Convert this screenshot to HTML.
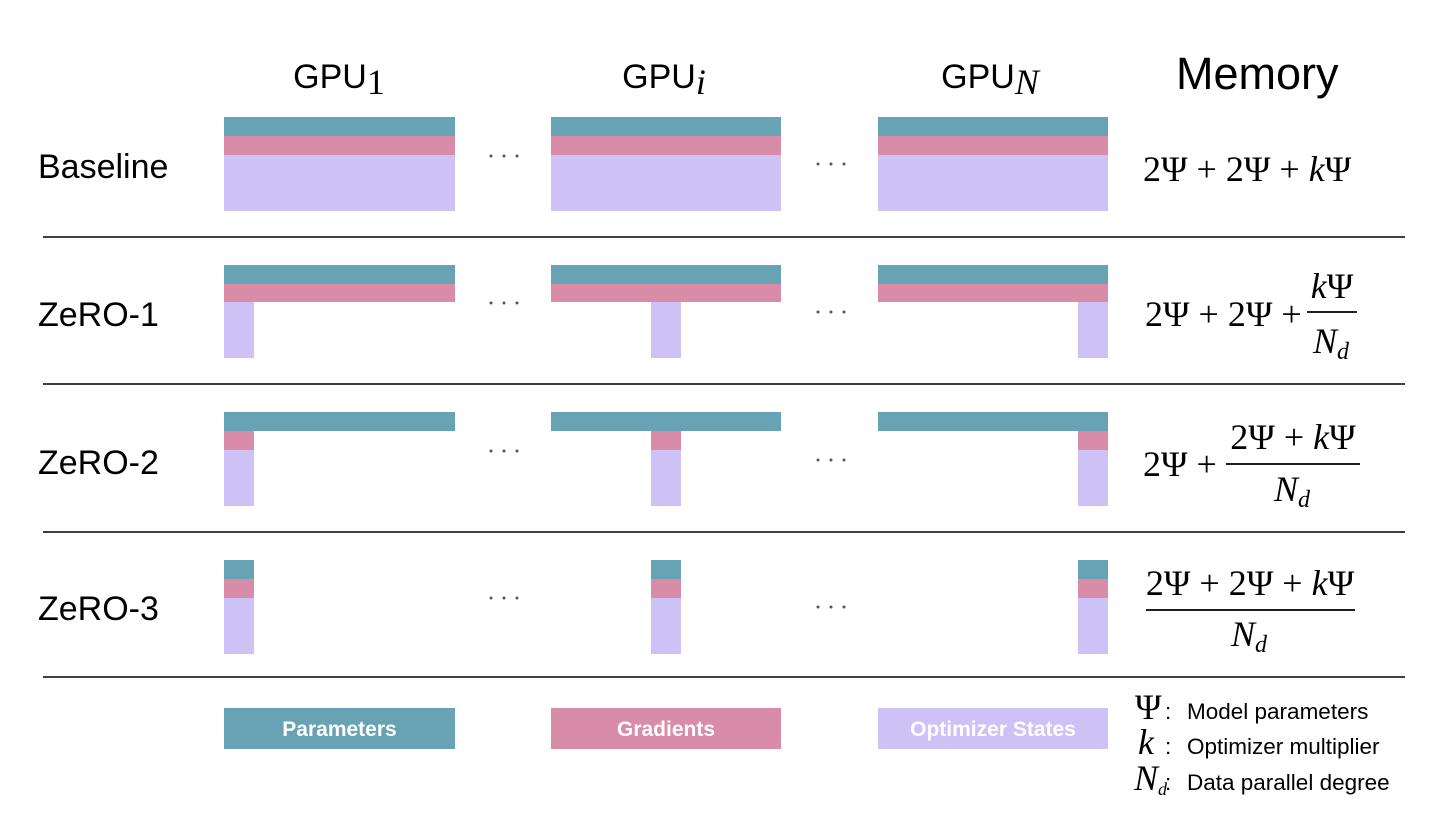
<!DOCTYPE html>
<html><head><meta charset="utf-8"><style>
html,body{margin:0;padding:0;background:#fff;}
svg{display:block;}
.s{font-family:"Liberation Sans",sans-serif;fill:#000;}
.m{font-family:"Liberation Serif",serif;fill:#000;font-size:36px;}
.i{font-style:italic;}
.lg{font-family:"Liberation Sans",sans-serif;fill:#fff;font-weight:bold;font-size:21px;}
</style></head><body>
<svg width="1452" height="838" viewBox="0 0 1452 838" xmlns="http://www.w3.org/2000/svg">
<rect width="1452" height="838" fill="#fff"/>
<text class="s" x="339" y="88" font-size="34" text-anchor="middle">GPU<tspan class="m" font-size="26" dy="6">1</tspan></text>
<text class="s" x="664" y="88" font-size="34" text-anchor="middle">GPU<tspan class="m i" font-size="26" dy="6">i</tspan></text>
<text class="s" x="990" y="88" font-size="34" text-anchor="middle">GPU<tspan class="m i" font-size="26" dy="6">N</tspan></text>
<text class="s" x="1176" y="89" font-size="45">Memory</text>
<text class="s" x="38" y="178" font-size="34">Baseline</text>
<text class="s" x="38" y="326" font-size="34">ZeRO-1</text>
<text class="s" x="38" y="474" font-size="34">ZeRO-2</text>
<text class="s" x="38" y="620" font-size="34">ZeRO-3</text>
<g stroke="#000" stroke-width="1.6">
<line x1="43" y1="237" x2="1405" y2="237"/>
<line x1="43" y1="384" x2="1405" y2="384"/>
<line x1="43" y1="532" x2="1405" y2="532"/>
<line x1="43" y1="677" x2="1405" y2="677"/>
</g>
<g>
<rect x="224" y="117" width="231" height="19" fill="#67a3b4"/><rect x="224" y="136" width="231" height="19" fill="#d98ca8"/><rect x="224" y="155" width="231" height="56" fill="#cdc1f6"/>
<rect x="551" y="117" width="230" height="19" fill="#67a3b4"/><rect x="551" y="136" width="230" height="19" fill="#d98ca8"/><rect x="551" y="155" width="230" height="56" fill="#cdc1f6"/>
<rect x="878" y="117" width="230" height="19" fill="#67a3b4"/><rect x="878" y="136" width="230" height="19" fill="#d98ca8"/><rect x="878" y="155" width="230" height="56" fill="#cdc1f6"/>
</g>
<g>
<rect x="224" y="265" width="231" height="19" fill="#67a3b4"/><rect x="224" y="284" width="231" height="18" fill="#d98ca8"/><rect x="224" y="302" width="30" height="56" fill="#cdc1f6"/>
<rect x="551" y="265" width="230" height="19" fill="#67a3b4"/><rect x="551" y="284" width="230" height="18" fill="#d98ca8"/><rect x="651" y="302" width="30" height="56" fill="#cdc1f6"/>
<rect x="878" y="265" width="230" height="19" fill="#67a3b4"/><rect x="878" y="284" width="230" height="18" fill="#d98ca8"/><rect x="1078" y="302" width="30" height="56" fill="#cdc1f6"/>
</g>
<g>
<rect x="224" y="412" width="231" height="19" fill="#67a3b4"/><rect x="224" y="431" width="30" height="19" fill="#d98ca8"/><rect x="224" y="450" width="30" height="56" fill="#cdc1f6"/>
<rect x="551" y="412" width="230" height="19" fill="#67a3b4"/><rect x="651" y="431" width="30" height="19" fill="#d98ca8"/><rect x="651" y="450" width="30" height="56" fill="#cdc1f6"/>
<rect x="878" y="412" width="230" height="19" fill="#67a3b4"/><rect x="1078" y="431" width="30" height="19" fill="#d98ca8"/><rect x="1078" y="450" width="30" height="56" fill="#cdc1f6"/>
</g>
<g>
<rect x="224" y="560" width="30" height="19" fill="#67a3b4"/><rect x="224" y="579" width="30" height="19" fill="#d98ca8"/><rect x="224" y="598" width="30" height="56" fill="#cdc1f6"/>
<rect x="651" y="560" width="30" height="19" fill="#67a3b4"/><rect x="651" y="579" width="30" height="19" fill="#d98ca8"/><rect x="651" y="598" width="30" height="56" fill="#cdc1f6"/>
<rect x="1078" y="560" width="30" height="19" fill="#67a3b4"/><rect x="1078" y="579" width="30" height="19" fill="#d98ca8"/><rect x="1078" y="598" width="30" height="56" fill="#cdc1f6"/>
</g>
<g fill="#555">
<circle cx="491" cy="156" r="1.5"/><circle cx="504" cy="156" r="1.5"/><circle cx="517" cy="156" r="1.5"/>
<circle cx="818" cy="164" r="1.5"/><circle cx="831" cy="164" r="1.5"/><circle cx="844" cy="164" r="1.5"/>
<circle cx="491" cy="303" r="1.5"/><circle cx="504" cy="303" r="1.5"/><circle cx="517" cy="303" r="1.5"/>
<circle cx="818" cy="312" r="1.5"/><circle cx="831" cy="312" r="1.5"/><circle cx="844" cy="312" r="1.5"/>
<circle cx="491" cy="451" r="1.5"/><circle cx="504" cy="451" r="1.5"/><circle cx="517" cy="451" r="1.5"/>
<circle cx="818" cy="460" r="1.5"/><circle cx="831" cy="460" r="1.5"/><circle cx="844" cy="460" r="1.5"/>
<circle cx="491" cy="598" r="1.5"/><circle cx="504" cy="598" r="1.5"/><circle cx="517" cy="598" r="1.5"/>
<circle cx="818" cy="607" r="1.5"/><circle cx="831" cy="607" r="1.5"/><circle cx="844" cy="607" r="1.5"/>
</g>
<text class="m" x="1143" y="181">2Ψ + 2Ψ + <tspan class="i">k</tspan>Ψ</text>
<text class="m" x="1145" y="326">2Ψ + 2Ψ +</text>
<line x1="1307" y1="312" x2="1357" y2="312" stroke="#000" stroke-width="1.8"/>
<text class="m" x="1332" y="298" text-anchor="middle"><tspan class="i">k</tspan>Ψ</text>
<text class="m i" x="1313" y="353">N<tspan font-size="24" dy="6">d</tspan></text>
<text class="m" x="1143" y="476">2Ψ +</text>
<line x1="1226" y1="464" x2="1360" y2="464" stroke="#000" stroke-width="1.8"/>
<text class="m" x="1293" y="449" text-anchor="middle">2Ψ + <tspan class="i">k</tspan>Ψ</text>
<text class="m i" x="1274" y="501">N<tspan font-size="24" dy="6">d</tspan></text>
<line x1="1146" y1="610" x2="1355" y2="610" stroke="#000" stroke-width="1.8"/>
<text class="m" x="1250" y="595" text-anchor="middle">2Ψ + 2Ψ + <tspan class="i">k</tspan>Ψ</text>
<text class="m i" x="1231" y="646">N<tspan font-size="24" dy="6">d</tspan></text>
<rect x="224" y="708" width="231" height="41" fill="#67a3b4"/>
<text class="lg" x="339.5" y="736" text-anchor="middle">Parameters</text>
<rect x="551" y="708" width="230" height="41" fill="#d98ca8"/>
<text class="lg" x="666" y="736" text-anchor="middle">Gradients</text>
<rect x="878" y="708" width="230" height="41" fill="#cdc1f6"/>
<text class="lg" x="993" y="736" text-anchor="middle">Optimizer States</text>
<text class="m" x="1135" y="719" font-size="26">Ψ</text>
<text class="m i" x="1138" y="754" font-size="26">k</text>
<text class="m i" x="1134" y="790" font-size="26">N<tspan font-size="18" dy="5">d</tspan></text>
<g class="s" font-size="22.5">
<text x="1165" y="719">:</text><text x="1187" y="719">Model parameters</text>
<text x="1165" y="754">:</text><text x="1187" y="754">Optimizer multiplier</text>
<text x="1165" y="790">:</text><text x="1187" y="790">Data parallel degree</text>
</g>
</svg>
</body></html>
